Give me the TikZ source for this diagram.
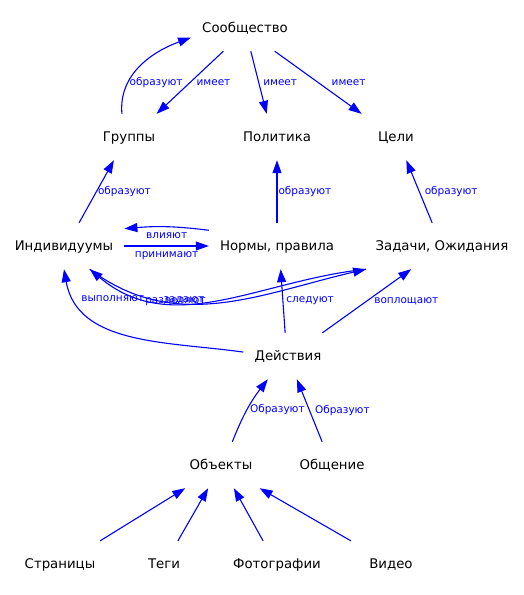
\documentclass[tikz,border=0pt]{standalone}
\usepackage{fontspec}
\setmainfont{DejaVu Sans}
\usepackage{tikz}
\usetikzlibrary{arrows.meta}
\definecolor{edgeblue}{rgb}{0, 0, 1}
\tikzstyle{concept} = [rectangle, minimum width=80pt, minimum height=46pt, inner xsep=11pt, text height=11.5pt, text depth=2pt, font=\fontsize{13.3}{16}\selectfont]
\tikzstyle{lbl} = [inner sep=1pt, text=edgeblue, font=\fontsize{10.5}{12}\selectfont]
\tikzstyle{arrow} = [draw=edgeblue, line width=1.1pt, -{Triangle[length=13pt,width=9pt]}]

\begin{document}
\begin{tikzpicture}[x=1pt, y=1pt]
    \useasboundingbox (0,0) rectangle (524,-595);
    % concepts
    \node[concept] (community) at (245,-28) {Сообщество};
    \node[concept] (groups) at (129,-137) {Группы};
    \node[concept] (policy) at (277,-137) {Политика};
    \node[concept] (goals) at (396,-137) {Цели};
    \node[concept] (individuals) at (64,-246) {Индивидуумы};
    \node[concept] (norms) at (277,-246) {Нормы, правила};
    \node[concept] (tasks) at (442,-246) {Задачи, Ожидания};
    \node[concept] (actions) at (288,-356) {Действия};
    \node[concept] (objects) at (221,-465) {Объекты};
    \node[concept] (communication) at (332,-465) {Общение};
    \node[concept] (pages) at (60,-564) {Страницы};
    \node[concept] (tags) at (164,-564) {Теги};
    \node[concept] (photos) at (277,-564) {Фотографии};
    \node[concept] (video) at (391,-564) {Видео};
    % relations
    \draw[arrow] (groups.107) to[out=95, in=200] node[lbl, pos=0.3, right] {образуют} (community.190);
    \draw[arrow] (community.227) -- node[lbl, right=5pt] {имеет} (groups.40);
    \draw[arrow] (community.284) -- node[lbl, right=3pt] {имеет} (policy.114);
    \draw[arrow] (community.322) -- node[lbl, right=12pt] {имеет} (goals.146);
    \draw[arrow] (individuals.57) -- node[lbl, right] {образуют} (groups.237);
    \draw[arrow] (norms.90) -- node[lbl, right=0pt] {образуют} (policy.270);
    \draw[arrow] (tasks.113) -- node[lbl, right=4pt] {образуют} (goals.294);
    \draw[arrow] (norms.167) to[bend right=6] node[lbl, below=4pt] {влияют} (individuals.16);
    \draw[arrow] (individuals.0) -- node[lbl, below=4pt] {принимают} (norms.180);
    \draw[arrow] (individuals.318) to[out=-37, in=193] node[lbl, pos=0.33, yshift=2pt] {разделяют} (tasks.197);
    \draw[arrow] (tasks.197) to[out=186, in=-40] node[lbl, pos=0.63, yshift=2pt] {задают} (individuals.318);
    \draw[arrow] (actions.175) to[out=172, in=280] node[lbl, pos=0.85, right=5pt] {выполняют} (individuals.270);
    \draw[arrow] (actions.97) -- node[lbl, right=2pt] {следуют} (norms.279);
    \draw[arrow] (actions.34) -- node[lbl, right=6pt] {воплощают} (tasks.217);
    \draw[arrow] (objects.64) to[bend left=8] node[lbl, right=1pt] {Образуют} (actions.229);
    \draw[arrow] (communication.113) -- node[lbl, right=4pt] {Образуют} (actions.291);
    \draw[arrow] (pages.30) -- (objects.213);
    \draw[arrow] (tags.59) -- (objects.241);
    \draw[arrow] (photos.121) -- (objects.299);
    \draw[arrow] (video.150) -- (objects.329);
\end{tikzpicture}
\end{document}
